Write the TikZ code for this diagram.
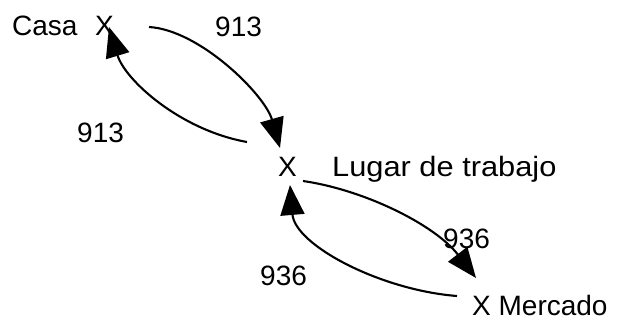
\documentclass[tikz,border=0pt]{standalone}
\usepackage{fontspec}
\setmainfont{Liberation Sans}
\usetikzlibrary{arrows.meta}
\begin{document}
\begin{tikzpicture}[x=1pt,y=-1pt,
  lbl/.style={inner sep=0pt,anchor=base west,font=\fontsize{28}{32}\selectfont},
  conn/.style={line width=2.1pt,arrows={-Triangle[length=30pt,width=24pt]}}]
\useasboundingbox (0,0) rectangle (623,320);
\node[lbl] (casa) at (12,36) {Casa};
\node[lbl] (xcasa) at (95,36) {X};
\node[lbl] (n1) at (215,37) {913};
\node[lbl] (n2) at (77,143) {913};
\node[lbl] (xlugar) at (278,177) {X};
\node[lbl] (lugar) at (332,177) {\scalebox{1.1}[1]{Lugar de trabajo}};
\node[lbl] (n3) at (443,248) {936};
\node[lbl] (n4) at (260,285) {936};
\node[lbl] (merc) at (472,315) {X Mercado};
\coordinate (a1) at (149,27);
\coordinate (b1) at (280,148);
\coordinate (a2) at (247,142);
\coordinate (b2) at (109,27);
\coordinate (a3) at (303,181);
\coordinate (b3) at (476,278);
\coordinate (a4) at (457,296);
\coordinate (b4) at (290,185);
\draw[conn] (a1) .. controls (200,30) and (265,95) .. (b1);
\draw[conn] (a2) .. controls (180,130) and (125,80) .. (b2);
\draw[conn] (a3) .. controls (365,190) and (435,225) .. (b3);
\draw[conn] (a4) .. controls (380,290) and (295,245) .. (b4);
\end{tikzpicture}
\end{document}
